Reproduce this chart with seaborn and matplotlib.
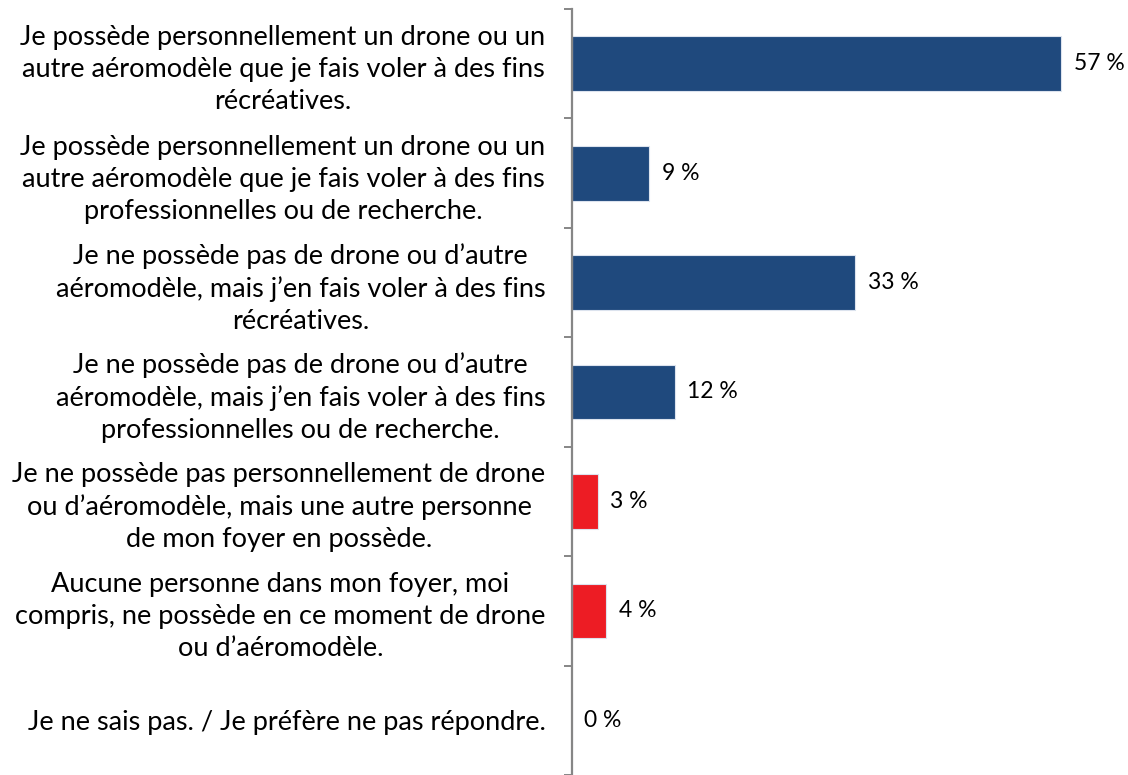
import matplotlib
matplotlib.use("Agg")
import matplotlib.pyplot as plt
import seaborn as sns
import pandas as pd

# Chart data
categories = [
    "Je possède personnellement un drone ou un\nautre aéromodèle que je fais voler à des fins\nrécréatives.",
    "Je possède personnellement un drone ou un\nautre aéromodèle que je fais voler à des fins\nprofessionnelles ou de recherche.",
    "Je ne possède pas de drone ou d’autre\naéromodèle, mais j’en fais voler à des fins\nrécréatives.",
    "Je ne possède pas de drone ou d’autre\naéromodèle, mais j’en fais voler à des fins\nprofessionnelles ou de recherche.",
    "Je ne possède pas personnellement de drone\nou d’aéromodèle, mais une autre personne\nde mon foyer en possède.",
    "Aucune personne dans mon foyer, moi\ncompris, ne possède en ce moment de drone\nou d’aéromodèle.",
    "Je ne sais pas. / Je préfère ne pas répondre.",
]
values = [57, 9, 33, 12, 3, 4, 0]
navy = "#1F497D"
red = "#ED1C24"
bar_colors = [navy, navy, navy, navy, red, red, red]

df = pd.DataFrame({"cat": categories, "val": values})

sns.set_style("white")
plt.rcParams["font.family"] = ["Lato", "DejaVu Sans"]

fig = plt.figure(figsize=(11.28, 7.75), dpi=100)
ax = fig.add_axes([572 / 1128, 0, 556 / 1128, 766 / 775])

sns.barplot(data=df, x="val", y="cat", hue="cat", palette=bar_colors,
            orient="h", width=0.5, legend=False, ax=ax, saturation=1,
            edgecolor="#dce3ee", linewidth=0.8)

ax.set_xlim(0, 64.8)
ax.set_ylim(6.5, -0.5)
ax.set_xlabel("")
ax.set_ylabel("")
ax.set_xticks([])

for s in ["top", "right", "bottom"]:
    ax.spines[s].set_visible(False)
ax.spines["left"].set_color("#868686")
ax.spines["left"].set_linewidth(1.6)

# category labels, centred within their block
ax.set_yticks(range(len(categories)))
ax.set_yticklabels(categories, fontsize=19.5, color="#000000")
for lbl in ax.get_yticklabels():
    lbl.set_multialignment("center")
    lbl.set_linespacing(1.35)
ax.tick_params(axis="y", which="major", length=0, pad=19)

# boundary tick marks
ax.set_yticks([i - 0.5 for i in range(len(categories) + 1)], minor=True)
ax.tick_params(axis="y", which="minor", left=True, length=6, width=1.4,
               color="#868686", direction="out")

for cont in ax.containers:
    ax.bar_label(cont, labels=[f"{int(v)} %" for v in cont.datavalues],
                 padding=9, fontsize=16.5, color="#000000")

fig.savefig("out.png", dpi=100)
